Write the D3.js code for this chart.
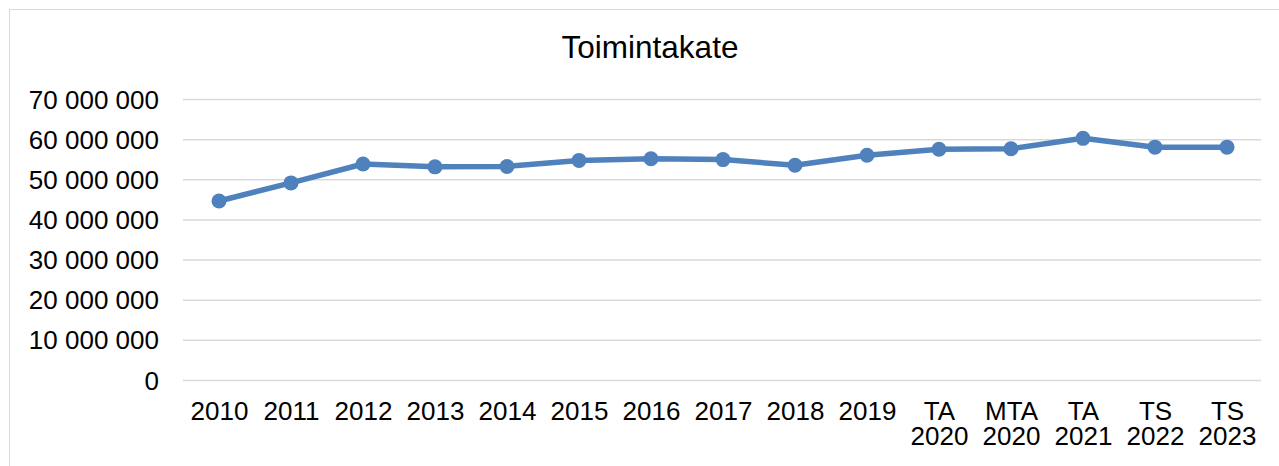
<!DOCTYPE html>
<html>
<head>
<meta charset="utf-8">
<script src="https://cdn.jsdelivr.net/npm/d3@7"></script>
<style>
  body { margin: 0; background: #fff; }
  svg text { font-family: "Liberation Sans", Arial, sans-serif; fill: #000; }
</style>
</head>
<body>
<svg id="chart" width="1279" height="466"></svg>
<script>
// Chart data
const categories = ["2010", "2011", "2012", "2013", "2014", "2015", "2016", "2017", "2018", "2019",
                    "TA 2020", "MTA 2020", "TA 2021", "TS 2022", "TS 2023"];
const values = [44600000, 49100000, 53800000, 53100000, 53200000, 54700000, 55100000, 54900000,
                53500000, 56000000, 57500000, 57600000, 60200000, 58000000, 58000000];
const yTicks = [0, 10000000, 20000000, 30000000, 40000000, 50000000, 60000000, 70000000];
const chartTitle = "Toimintakate";

// Dimensions
const plotLeft = 183, plotRight = 1263, plotTop = 99, plotBottom = 380;

const svg = d3.select("#chart");

// Outer frame
svg.append("rect")
    .attr("x", 9.5).attr("y", 9.5)
    .attr("width", 1300).attr("height", 500)
    .attr("fill", "none")
    .attr("stroke", "#d9d9d9")
    .attr("stroke-width", 1);

// Scales
const xScale = d3.scalePoint()
    .domain(categories)
    .range([plotLeft, plotRight])
    .padding(0.5);

const yScale = d3.scaleLinear()
    .domain([0, 70000000])
    .range([plotBottom, plotTop]);

// Grid lines + y labels
const fmt = v => d3.format(",")(v).replace(/,/g, " ");
const yAxis = svg.append("g")
    .attr("transform", "translate(" + plotLeft + ",0)")
    .call(d3.axisLeft(yScale)
        .tickValues(yTicks)
        .tickSize(-(plotRight - 2 - plotLeft))
        .tickPadding(24)
        .tickFormat(fmt));
yAxis.select(".domain").remove();
yAxis.selectAll(".tick line")
    .attr("stroke", "#d9d9d9")
    .attr("stroke-width", 1.5);
yAxis.selectAll(".tick text")
    .attr("font-size", 26)
    .attr("fill", "#000")
    .attr("dy", "0.35em");

// X axis labels (split into two lines where needed)
const xAxis = svg.append("g")
    .attr("transform", "translate(0," + plotBottom + ")")
    .call(d3.axisBottom(xScale).tickSize(0).tickFormat(""));
xAxis.select(".domain").remove();

xAxis.selectAll(".tick").each(function(d) {
    const parts = d.split(" ");
    const t = d3.select(this).append("text")
        .attr("text-anchor", "middle")
        .attr("font-size", 26);
    parts.forEach((p, i) => {
        t.append("tspan")
            .attr("x", 0)
            .attr("y", 40 + i * 25)
            .text(p);
    });
});

// Line
const line = d3.line()
    .x((d, i) => xScale(categories[i]))
    .y(d => yScale(d));

svg.append("path")
    .datum(values)
    .attr("d", line)
    .attr("fill", "none")
    .attr("stroke", "#4f81bd")
    .attr("stroke-width", 5.5)
    .attr("stroke-linejoin", "round");

// Markers
svg.selectAll(".dot")
    .data(values)
    .enter()
    .append("circle")
    .attr("class", "dot")
    .attr("cx", (d, i) => xScale(categories[i]))
    .attr("cy", d => yScale(d))
    .attr("r", 7.5)
    .attr("fill", "#4f81bd");

// Title
svg.append("text")
    .attr("x", 650)
    .attr("y", 58)
    .attr("text-anchor", "middle")
    .attr("font-size", 31.5)
    .text(chartTitle);
</script>
</body>
</html>
